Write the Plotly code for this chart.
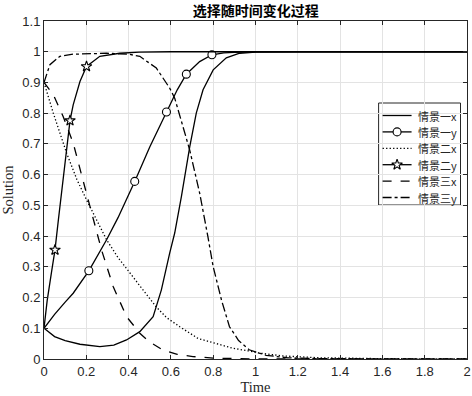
import plotly.graph_objects as go

# ---- data ----
t_1x = [0, 0.05, 0.1, 0.17, 0.264, 0.33, 0.39, 0.453, 0.516, 0.555, 0.594, 0.618, 0.65, 0.689, 0.72, 0.752, 0.8, 0.862, 0.925, 1.0, 1.2, 2.0]
v_1x = [0.1, 0.073, 0.06, 0.048, 0.04, 0.045, 0.062, 0.089, 0.138, 0.225, 0.344, 0.41, 0.53, 0.69, 0.80, 0.876, 0.941, 0.98, 0.995, 0.999, 1.0, 1.0]

t_1y = [0, 0.05, 0.1, 0.138, 0.212, 0.296, 0.35, 0.429, 0.5, 0.579, 0.63, 0.673, 0.736, 0.794, 0.85, 0.9, 1.0, 1.2, 2.0]
v_1y = [0.1, 0.145, 0.185, 0.214, 0.287, 0.388, 0.46, 0.578, 0.69, 0.804, 0.876, 0.927, 0.968, 0.99, 0.996, 0.998, 1.0, 1.0, 1.0]
mk_1y = [4, 7, 9, 11, 13]

t_2x = [0, 0.044, 0.107, 0.155, 0.201, 0.25, 0.296, 0.35, 0.406, 0.45, 0.53, 0.579, 0.642, 0.728, 0.8, 0.893, 0.987, 1.02, 1.13, 1.3, 1.6, 2.0]
v_2x = [0.9, 0.80, 0.67, 0.585, 0.518, 0.45, 0.388, 0.33, 0.279, 0.24, 0.17, 0.135, 0.105, 0.067, 0.052, 0.035, 0.024, 0.019, 0.01, 0.004, 0.001, 0.0]

t_2y = [0, 0.015, 0.035, 0.052, 0.068, 0.099, 0.123, 0.138, 0.17, 0.201, 0.264, 0.358, 0.45, 0.6, 2.0]
v_2y = [0.1, 0.19, 0.28, 0.355, 0.453, 0.645, 0.776, 0.827, 0.903, 0.952, 0.985, 0.995, 0.999, 1.0, 1.0]
mk_2y = [3, 6, 9]

t_3x = [0, 0.044, 0.09, 0.138, 0.185, 0.233, 0.272, 0.327, 0.39, 0.453, 0.5, 0.563, 0.63, 0.704, 0.8, 1.0, 2.0]
v_3x = [0.9, 0.86, 0.79, 0.703, 0.58, 0.458, 0.355, 0.236, 0.138, 0.084, 0.055, 0.029, 0.015, 0.008, 0.003, 0.0, 0.0]

t_3y = [0, 0.028, 0.075, 0.138, 0.296, 0.40, 0.453, 0.531, 0.594, 0.618, 0.689, 0.736, 0.775, 0.8, 0.84, 0.877, 0.92, 0.97, 1.05, 1.15, 1.3, 2.0]
v_3y = [0.9, 0.958, 0.985, 0.992, 0.995, 0.992, 0.985, 0.947, 0.882, 0.849, 0.68, 0.54, 0.398, 0.30, 0.19, 0.105, 0.06, 0.03, 0.012, 0.004, 0.001, 0.0]

names = ["情景一x", "情景一y", "情景二x", "情景二y", "情景三x", "情景三y"]
x_ticks = [0, 0.2, 0.4, 0.6, 0.8, 1, 1.2, 1.4, 1.6, 1.8, 2]
x_tick_labels = ["0", "0.2", "0.4", "0.6", "0.8", "1", "1.2", "1.4", "1.6", "1.8", "2"]
y_ticks = [0, 0.1, 0.2, 0.3, 0.4, 0.5, 0.6, 0.7, 0.8, 0.9, 1, 1.1]
y_tick_labels = ["0", "0.1", "0.2", "0.3", "0.4", "0.5", "0.6", "0.7", "0.8", "0.9", "1", "1.1"]
title_text = "选择随时间变化过程"
x_title = "Time"
y_title = "Solution"

# ---- styling / layout ----
W, H = 472, 396
L, R, T, B = 44, 4.5, 21, 37
PW, PH = W - L - R, H - T - B
LW = 1.3
BLACK = "black"
AX = "#262626"

styles = [
    ("solid", None, None),
    ("solid", "circle", mk_1y),
    ("1.3px,2.2px", None, None),
    ("solid", "star", mk_2y),
    ("dash", None, None),
    ("dashdot", None, None),
]
data = [(t_1x, v_1x), (t_1y, v_1y), (t_2x, v_2x), (t_2y, v_2y), (t_3x, v_3x), (t_3y, v_3y)]


def mstyle(sym):
    return dict(symbol=sym, size=8, color="white", line=dict(color=BLACK, width=1.1))


fig = go.Figure()
for name, (tt, vv), (dash, sym, mk) in zip(names, data, styles):
    fig.add_trace(go.Scatter(x=tt, y=vv, mode="lines", name=name, showlegend=False,
                             line=dict(color=BLACK, width=LW, dash=dash), hoverinfo="skip"))
    if sym is not None:
        fig.add_trace(go.Scatter(x=[tt[i] for i in mk], y=[vv[i] for i in mk], mode="markers",
                                 name=name, showlegend=False, hoverinfo="skip",
                                 marker=mstyle(sym)))

# ---- custom legend (box, sample lines, texts) ----
def px2x(px):
    return (px - L) / PW


def py2y(py):
    return (H - B - py) / PH


box_l, box_r, box_t, box_b = 379, 461, 103, 205
row0, row_gap = 115.5, 16.4
smp_l, smp_r, txt_l = 383, 412, 416

shapes = [dict(type="rect", xref="paper", yref="paper",
               x0=px2x(box_l), x1=px2x(box_r), y0=py2y(box_b), y1=py2y(box_t),
               fillcolor="white", line=dict(color=AX, width=1), layer="between")]
annotations = []
for i, (name, (dash, sym, mk)) in enumerate(zip(names, styles)):
    yy = py2y(row0 + i * row_gap)
    fig.add_trace(go.Scatter(x=[px2x(smp_l), px2x(smp_r)], y=[yy, yy], xaxis="x2", yaxis="y2",
                             mode="lines", showlegend=False, hoverinfo="skip",
                             line=dict(color=BLACK, width=LW, dash=dash)))
    if sym is not None:
        fig.add_trace(go.Scatter(x=[px2x((smp_l + smp_r) / 2)], y=[yy], xaxis="x2", yaxis="y2",
                                 mode="markers", showlegend=False, hoverinfo="skip",
                                 marker=mstyle(sym)))
    annotations.append(dict(x=px2x(txt_l), y=yy, xref="paper", yref="paper", text=name,
                            showarrow=False, xanchor="left", yanchor="middle",
                            font=dict(family="Noto Sans CJK SC", size=11, color=AX)))

axis_common = dict(showline=True, linecolor=AX, linewidth=1, mirror="allticks",
                   ticks="inside", ticklen=4, tickcolor=AX,
                   showgrid=True, gridcolor="#e3e3e3", gridwidth=1, zeroline=False,
                   tickfont=dict(family="Liberation Sans, Arial", size=13, color=AX))

fig.update_layout(
    width=W, height=H,
    margin=dict(l=L, r=R, t=T, b=B, autoexpand=False),
    paper_bgcolor="white", plot_bgcolor="white",
    showlegend=False,
    title=dict(text="<b>" + title_text + "</b>", x=(L + PW / 2) / W, xanchor="center",
               y=1 - 11 / H, yanchor="middle", yref="container",
               font=dict(family="Noto Sans CJK SC", size=14, color="black")),
    xaxis=dict(range=[0, 2], tickvals=x_ticks, ticktext=x_tick_labels,
               title=dict(text=x_title, standoff=0, font=dict(family="Liberation Serif, Times New Roman", size=14.5, color=AX)),
               **axis_common),
    yaxis=dict(range=[0, 1.1], tickvals=y_ticks, ticktext=y_tick_labels,
               title=dict(text=y_title, standoff=6, font=dict(family="Liberation Serif, Times New Roman", size=14.5, color=AX)),
               **axis_common),
    xaxis2=dict(overlaying="x", range=[0, 1], visible=False, fixedrange=True),
    yaxis2=dict(overlaying="y", range=[0, 1], visible=False, fixedrange=True),
    shapes=shapes,
    annotations=annotations,
)

fig.write_html("out.html", config={"displayModeBar": False, "staticPlot": True},
               post_script="document.body.style.margin='0';document.body.style.padding='0';")
